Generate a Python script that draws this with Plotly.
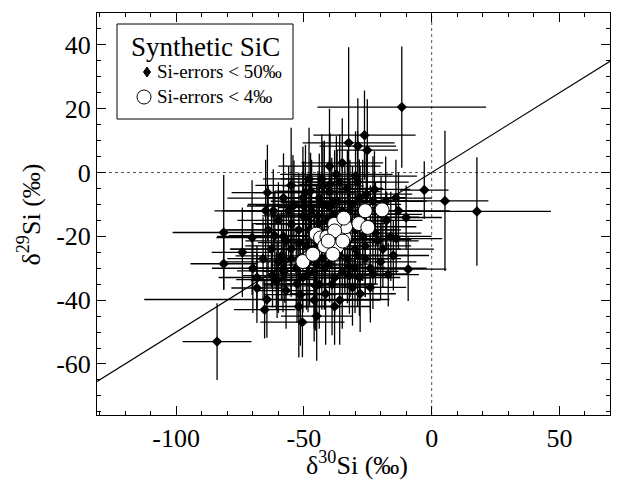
import plotly.graph_objects as go

# Si-errors < 50 permil (diamonds with error bars)
d30 = [-84, -81.4, -81.4, -70.3, -74.1, -64.3, -68.4, -68.4, -65.4, -64.5,
       -62.3, -60.5, -50.6, -51.4, -52.7, -45.4, -11.7, -26.3, -28.9, -32.5,
       -25.2, -2.9, 5.2, 17.7, -10, -13, -17.6, -13.9, -21.1, -19.1,
       -9.2, -23, -32.2, -57.5, -60.8, -54.3, -50.1, -53.9, -49.4, -47.4,
       -42.6, -39.8, -37.3, -29.8, -25.6, -22.4, -61.4, -56.9, -54.9, -50.4,
       -62.7, -58.8, -39.1, -48.4, -50.4, -44.5, -40, -32.2, -28.3, -23,
       -19.8, -47.8, -40, -32.2, -28.3, -50.4, -58.2, -41.5,
       -45, -43, -38, -36, -34, -30, -27, -26, -24, -35,
       -31, -44, -52, -55, -48, -46, -42, -38, -36, -33,
       -30, -28, -41, -53, -49, -56, -60, -66, -64, -20,
       -17, -15, -36, -43, -31, -46, -57, -38, -33, -45,
       -24, -29,
       -58, -55, -62, -47, -44, -40, -37, -34, -32, -29,
       -27, -22, -18, -52, -49, -46, -43, -39, -35, -30,
       -26, -55, -60, -65, -70, -42, -38, -48, -35, -40,
       -45, -36, -28, -16, -14, -52, -58, -44, -32, -24]
d29 = [-53, -18.8, -28.6, -20.4, -25, -6.3, -36.2, -32.9, -43, -39.8,
       -32.3, -33.6, -46.9, -38.3, -34.9, -35.5, 20.5, 11.7, 8.3, 9.3,
       7, -5.5, -8.9, -12.2, -14.1, -12, -15, -20.7, -21.4, -24,
       -30.3, -31.8, -32.3, -30.8, -33.9, -10.5, -10.5, -10.2, -6.3, -5.8,
       -4.2, -3.7, -0.6, -1.1, -6.8, -5.3, -19.8, -21.4, -16.2, -13.6,
       -24, -26.1, -9.4, -31.8, -7.9, -13.6, -11, -15.2, -7.9, -8.9,
       -13.1, -27.7, -28.7, -29.7, -32.9, -32.9, -30.8, -38,
       -18, -22, -20, -26, -22, -24, -20, -27, -17, -12,
       -10, -8, -22, -27, -18, -24, -30, -33, -16, -5,
       -18, -12, -15, -30, -14, -12, -15, -27, -18, -28,
       -32, -26, -3, -2, -36, -40, -37, -42, -27, -29,
       -36, -3,
       -8, -4, -12, -12, -16, -6, -9, -18, -21, -26,
       -14, -19, -9, -18, -23, -31, -27, -35, -31, -30,
       -23, -24, -28, -12, -30, -10, -13, -2, 3, 2,
       -45, -40, -38, -20, -8, -42, -20, -35, -12, -30]
e30 = [13.5, 20, 13, 14, 12, 14, 10, 15, 12, 48,
       12, 16, 16.5, 14, 13, 20, 33, 20, 15, 18,
       12, 9.5, 17, 29, 14, 20, 14, 18, 16, 20,
       15, 14, 16, 14, 10, 18, 12, 15, 20, 14,
       16, 12, 22, 24, 18, 14, 18, 16, 14, 16,
       16, 18, 20, 14, 14, 18, 20, 16, 18, 14,
       16, 18, 16, 14, 16, 14, 18, 14,
       16, 18, 14, 16, 14, 18, 16, 14, 18, 16,
       14, 18, 16, 14, 16, 14, 18, 14, 16, 14,
       16, 18, 14, 16, 14, 18, 16, 14, 18, 14,
       12, 14, 18, 16, 14, 14, 12, 14, 16, 18,
       14, 20,
       22, 14, 20, 24, 26, 20, 26, 22, 24, 20,
       22, 18, 16, 28, 24, 20, 26, 18, 22, 20,
       18, 24, 22, 20, 16, 30, 26, 18, 16, 20,
       14, 16, 14, 16, 14, 14, 26, 22, 28, 22]
e29 = [12, 18, 8, 18, 14, 15, 11, 10, 9, 12,
       10, 12, 11, 16, 12, 14, 19, 14, 15, 30,
       16, 9, 22, 17, 10, 12, 9, 11, 10, 12,
       10, 11, 12, 10, 9, 16, 14, 14, 15, 12,
       14, 16, 12, 14, 14, 12, 14, 12, 15, 14,
       12, 14, 14, 12, 16, 14, 15, 13, 12, 14,
       12, 14, 12, 11, 12, 11, 13, 16,
       14, 12, 13, 12, 14, 12, 14, 12, 13, 14,
       12, 14, 13, 12, 14, 12, 13, 12, 14, 12,
       13, 14, 12, 13, 12, 14, 12, 13, 14, 12,
       10, 11, 15, 14, 12, 13, 12, 12, 14, 13,
       11, 16,
       14, 18, 13, 16, 14, 18, 16, 20, 18, 16,
       18, 16, 14, 18, 20, 18, 16, 16, 18, 14,
       16, 14, 16, 16, 14, 20, 20, 16, 14, 18,
       14, 14, 12, 14, 12, 16, 14, 14, 16, 14]

# Si-errors < 4 permil (open circles)
c30 = [-50.4, -46.5, -45.2, -43.5, -41, -41.9, -37.1, -38.7, -34.1, -33.7,
       -38, -34.4, -28.5, -25, -26, -19.4, -38, -34.8, -40.5]
c29 = [-27.9, -25.6, -19.3, -20.5, -20.2, -23, -23.3, -25.6, -20.4, -17,
       -16.2, -14.3, -16, -17.2, -12, -11.7, -18.3, -21.5, -21.5]

x_range = [-131, 69.8]
y_range = [-76, 50]
slope = 0.5
x_ticks = [-100, -50, 0, 50]
y_ticks = [-60, -40, -20, 0, 20, 40]

legend_title = "Synthetic SiC"
legend_labels = ["Si-errors < 50‰", "Si-errors < 4‰"]

FONT = "Liberation Serif, Times New Roman, serif"

# page body has an 8px margin; plot area spans page x 97..610, y 13..415
W, H = 603, 474
ML, MR, MT, MB = 89, 1, 5, 67
PW, PH = W - ML - MR, H - MT - MB


def px_to_paper(px, py):
    # px, py: page pixel coordinates
    return (px - 8 - ML) / PW, 1 - (py - 8 - MT) / PH


fig = go.Figure()

# reference line
fig.add_trace(go.Scatter(x=x_range, y=[slope * v for v in x_range], mode="lines",
                         line=dict(color="black", width=1.2), showlegend=False,
                         hoverinfo="skip"))

fig.add_trace(go.Scatter(
    x=d30, y=d29, mode="markers",
    marker=dict(symbol="diamond", size=8, color="black"),
    error_x=dict(type="data", array=e30, color="black", thickness=1.3, width=0),
    error_y=dict(type="data", array=e29, color="black", thickness=1.3, width=0),
    name=legend_labels[0], showlegend=False))

fig.add_trace(go.Scatter(
    x=c30, y=c29, mode="markers",
    marker=dict(symbol="circle", size=14, color="white",
                line=dict(color="black", width=1)),
    name=legend_labels[1], showlegend=False))

fig.add_shape(type="line", x0=0, x1=0, y0=0, y1=1, xref="x", yref="paper",
              line=dict(color="#555", width=1, dash="dot"), layer="below")
fig.add_shape(type="line", x0=0, x1=1, y0=0, y1=0, xref="paper", yref="y",
              line=dict(color="#555", width=1, dash="dot"), layer="below")

# ---- legend box (manual) ----
bx0, by0 = px_to_paper(117, 24)
bx1, by1 = px_to_paper(293, 119)
fig.add_shape(type="rect", xref="paper", yref="paper", x0=bx0, x1=bx1, y0=by1, y1=by0,
              line=dict(color="black", width=1), fillcolor="white", layer="above")
tx, ty = px_to_paper(205, 47)
fig.add_annotation(text=legend_title, x=tx, y=ty, xref="paper", yref="paper",
                   xanchor="center", yanchor="middle", showarrow=False,
                   font=dict(family=FONT, size=27, color="black"))
for lab, py in zip(legend_labels, [72, 97]):
    lx, ly = px_to_paper(155, py)
    fig.add_annotation(text=lab, x=lx, y=ly, xref="paper", yref="paper",
                       xanchor="left", yanchor="middle", showarrow=False,
                       font=dict(family=FONT, size=19, color="black"))

# legend symbols (pixel-sized shapes anchored in paper coords)
ax1, ay1 = px_to_paper(147, 72)
fig.add_shape(type="path", xref="paper", yref="paper", xsizemode="pixel", ysizemode="pixel",
              xanchor=ax1, yanchor=ay1, path="M0,-5 L3.5,0 L0,5 L-3.5,0 Z",
              fillcolor="black", line=dict(color="black", width=1), layer="above")
ax2, ay2 = px_to_paper(144, 97)
fig.add_shape(type="circle", xref="paper", yref="paper", xsizemode="pixel", ysizemode="pixel",
              xanchor=ax2, yanchor=ay2, x0=-7, x1=7, y0=-7, y1=7,
              fillcolor="white", line=dict(color="black", width=1), layer="above")

axis_common = dict(showgrid=False, zeroline=False, showline=True, linecolor="black",
                   linewidth=1, mirror="ticks", ticks="inside", ticklen=9,
                   automargin=False,
                   tickcolor="black", tickfont=dict(family=FONT, size=26, color="black"))

fig.update_layout(
    xaxis=dict(range=x_range, tickvals=x_ticks, ticktext=[str(v) for v in x_ticks],
               minor=dict(dtick=10, tick0=0, ticks="inside", ticklen=4, tickcolor="black"),
               **axis_common),
    yaxis=dict(range=y_range, tickvals=y_ticks, ticktext=[str(v) for v in y_ticks],
               minor=dict(dtick=5, tick0=0, ticks="inside", ticklen=4, tickcolor="black"),
               **axis_common),
)

tlx, tly = px_to_paper(357, 482)
fig.add_annotation(text="δ<sup>30</sup>Si (‰)", x=tlx, y=tly, xref="paper", yref="paper",
                   xanchor="center", yanchor="bottom", showarrow=False,
                   font=dict(family=FONT, size=26, color="black"))
ylx, yly = px_to_paper(48, 214)
fig.add_annotation(text="δ<sup>29</sup>Si (‰)", x=ylx, y=yly, xref="paper", yref="paper",
                   xanchor="right", yanchor="middle", showarrow=False, textangle=-90,
                   font=dict(family=FONT, size=26, color="black"))

fig.update_layout(
    width=W, height=H,
    margin=dict(l=ML, r=MR, t=MT, b=MB),
    plot_bgcolor="white", paper_bgcolor="white",
    font=dict(family=FONT, color="black"),
    showlegend=False,
)

fig.write_html("out.html")
